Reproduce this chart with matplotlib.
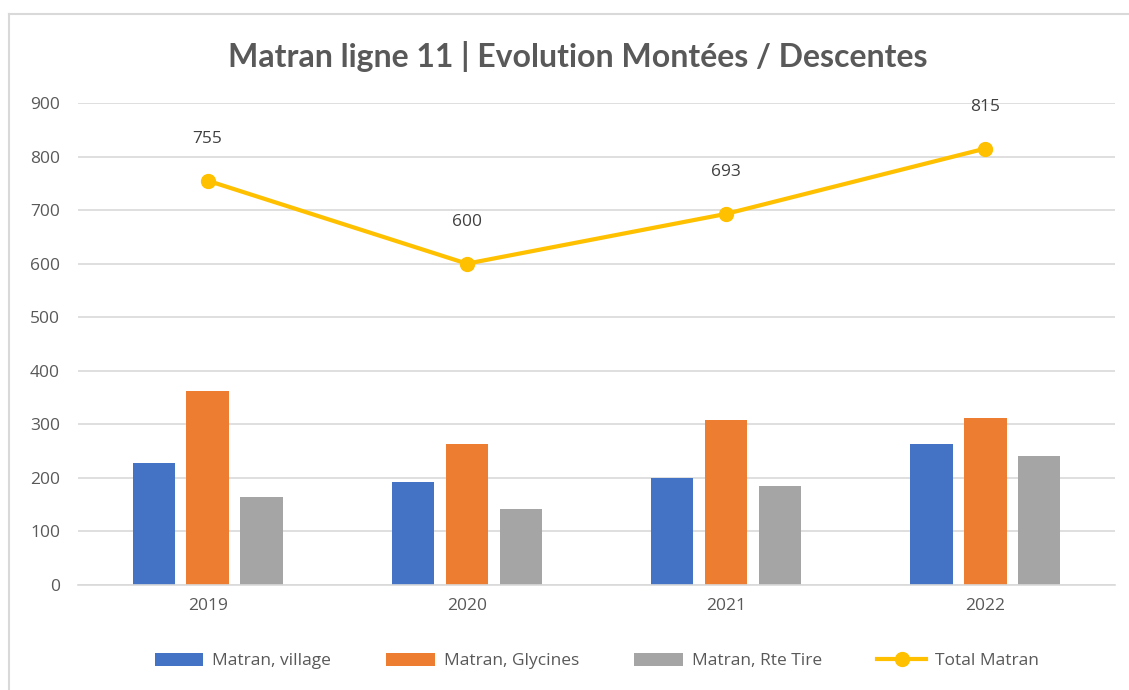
import numpy as np
import matplotlib.pyplot as plt
from matplotlib.lines import Line2D

plt.rcParams['font.family'] = ['Open Sans', 'DejaVu Sans']

# Data
years = ['2019', '2020', '2021', '2022']
village = [228, 192, 199, 264]
glycines = [362, 264, 308, 312]
rte_tire = [165, 141, 185, 240]
total = [755, 600, 693, 815]

c_blue = '#4472C4'
c_orange = '#ED7D31'
c_gray = '#A5A5A5'
c_yellow = '#FFC000'
txt = '#595959'

fig = plt.figure(figsize=(11.29, 6.9), dpi=100)
ax = fig.add_axes([78 / 1129, 1 - 585 / 690, (1115 - 78) / 1129, (585 - 103) / 690])

x = np.arange(len(years))
w = 0.163
step = 0.208
b1 = ax.bar(x - step, village, w, color=c_blue, label='Matran, village', zorder=2)
b2 = ax.bar(x, glycines, w, color=c_orange, label='Matran, Glycines', zorder=2)
b3 = ax.bar(x + step, rte_tire, w, color=c_gray, label='Matran, Rte Tire', zorder=2)
ln, = ax.plot(x, total, color=c_yellow, lw=3, marker='o', ms=10, label='Total Matran', zorder=3)

for xi, v in zip(x, total):
    ax.annotate(str(v), (xi, v), xytext=(0, 30), textcoords='offset points',
                ha='center', va='center', fontsize=12.5, color='#404040')

ax.set_xlim(-0.5, 3.5)
ax.set_ylim(0, 900)
ax.set_yticks(range(0, 901, 100))
ax.set_xticks(x)
ax.set_xticklabels(years)
ax.grid(axis='y', color='#D9D9D9', lw=1.2, zorder=0)
for s in ax.spines.values():
    s.set_visible(False)
ax.spines['bottom'].set_visible(True)
ax.spines['bottom'].set_color('#D9D9D9')
ax.spines['bottom'].set_linewidth(1.2)
ax.tick_params(length=0, labelsize=12.5, labelcolor=txt)
ax.tick_params(axis='y', pad=13)
ax.tick_params(axis='x', pad=9)

fig.text(578 / 1129, 1 - 56 / 690, 'Matran ligne 11 | Evolution Montées / Descentes',
         ha='center', va='center', fontsize=23, fontweight='bold', color=txt,
         family=['Lato', 'DejaVu Sans'])

ax.legend([b1, b2, b3, ln], ['Matran, village', 'Matran, Glycines', 'Matran, Rte Tire', 'Total Matran'],
          loc='center', bbox_to_anchor=(0.5, (585 - 661) / (585 - 103)), ncol=4,
          frameon=False, fontsize=12.5, labelcolor=txt, handlelength=2.8,
          handleheight=0.8, columnspacing=3.2, handletextpad=0.5)

# chart border (partially visible)
fig.add_artist(Line2D([9 / 1129, 9 / 1129], [0, 1 - 14 / 690], color='#D9D9D9', lw=1.5))
fig.add_artist(Line2D([9 / 1129, 1], [1 - 14 / 690, 1 - 14 / 690], color='#D9D9D9', lw=1.5))

fig.savefig('out.png', dpi=100, facecolor='white')
